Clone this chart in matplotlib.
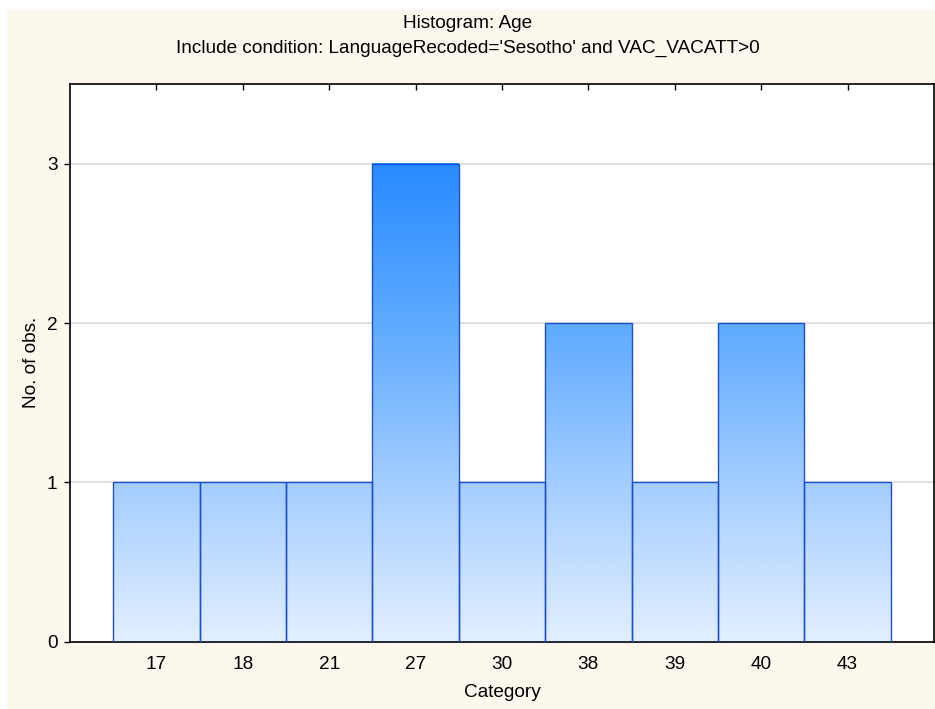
import numpy as np
import matplotlib
matplotlib.use("Agg")
import matplotlib.pyplot as plt
from matplotlib.colors import LinearSegmentedColormap, Normalize
from matplotlib.patches import Rectangle

categories = ['17', '18', '21', '27', '30', '38', '39', '40', '43']
counts = [1, 1, 1, 3, 1, 2, 1, 2, 1]
title = "Histogram: Age"
subtitle = "Include condition: LanguageRecoded='Sesotho' and VAC_VACATT>0"
xlabel = "Category"
ylabel = "No. of obs."

plt.rcParams['font.family'] = ['Liberation Sans', 'DejaVu Sans']
plt.rcParams['font.size'] = 13.7

W, H = 935, 709
fig = plt.figure(figsize=(W / 100, H / 100), dpi=100)
fig.patch.set_facecolor('white')
# cream panel
fig.patches.append(Rectangle((7 / W, -0.01), 1.02 - 7 / W, 1.01 - 10 / H, transform=fig.transFigure,
                             facecolor='#fdf8ee', edgecolor='none', zorder=-10))

left, right, top, bottom = 70, 934, 84, 641.7
ax = fig.add_axes([left / W, (H - bottom) / H, (right - left) / W, (bottom - top) / H])
ax.set_facecolor('white')

cmap = LinearSegmentedColormap.from_list('g', ['#e2efff', '#a3cdff', '#5eaaff', '#288bff'])
norm = Normalize(0, 3)
xs = np.arange(1, len(categories) + 1)
for x, c in zip(xs, counts):
    grad = np.linspace(0, c, 256).reshape(-1, 1)
    ax.imshow(grad, cmap=cmap, norm=norm, origin='lower', aspect='auto',
              extent=(x - 0.5, x + 0.5, 0, c), zorder=2, interpolation='bilinear')
    ax.add_patch(Rectangle((x - 0.5, 0), 1, c, facecolor='none', edgecolor='#1d4fd4',
                           linewidth=1.0, zorder=3))

ax.set_xlim(0, 10)
ax.set_ylim(0, 3.5)
ax.set_xticks(xs)
ax.set_xticklabels(categories)
ax.set_yticks([0, 1, 2, 3])
ax.yaxis.grid(True, color='#dcdcdc', linewidth=1.2, zorder=0)
ax.set_axisbelow(True)
ax.tick_params(axis='x', direction='in', top=True, bottom=True, length=4, width=1, pad=10)
ax.tick_params(axis='y', direction='out', left=True, right=True, length=4, width=1, pad=5)
for s in ax.spines.values():
    s.set_linewidth(1.2)
    s.set_color('black')

ax.set_xlabel(xlabel, labelpad=8)
ax.set_ylabel(ylabel, labelpad=5)
fig.text(0.5, 1 - 23 / H, title, ha='center', va='center', fontsize=13.7)
fig.text(0.5, 1 - 48 / H, subtitle, ha='center', va='center', fontsize=13.7)

fig.savefig('out.png', dpi=100)
